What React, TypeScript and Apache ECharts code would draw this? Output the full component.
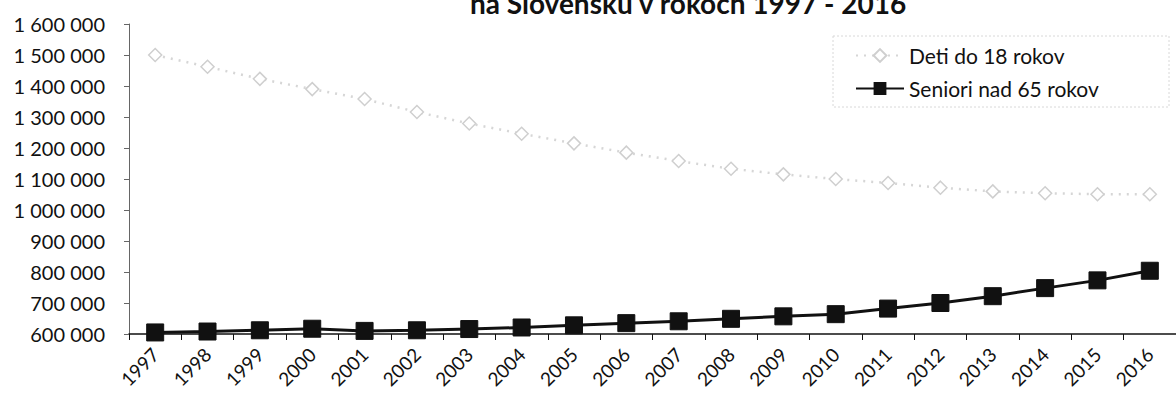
import React, { useEffect, useRef } from "react";
import * as echarts from "echarts";

const years = ["1997","1998","1999","2000","2001","2002","2003","2004","2005","2006","2007","2008","2009","2010","2011","2012","2013","2014","2015","2016"];
const deti = [1500000,1462000,1423000,1390000,1358000,1316000,1279000,1246000,1215000,1185000,1158000,1133000,1115000,1100000,1087000,1072000,1060000,1054000,1051000,1051000];
const seniori = [605000,608000,612000,617000,610000,612000,616000,621000,628000,635000,641000,649000,657000,664000,682000,700000,722000,748000,773000,804000];
const seriesNames = ["Deti do 18 rokov", "Seniori nad 65 rokov"];
const titleText = "na Slovensku v rokoch 1997 - 2016";

const FONT = "Lato, 'Noto Sans', sans-serif";

export default function App() {
  const ref = useRef<HTMLDivElement>(null);
  useEffect(() => {
    if (!ref.current) return;
    const chart = echarts.init(ref.current, null, { renderer: "svg" });
    chart.setOption({
      animation: false,
      backgroundColor: "#fff",
      textStyle: { fontFamily: FONT },
      grid: { left: 129, top: 24, bottom: 66, width: 1050 },
      graphic: [
        {
          type: "text",
          x: 470,
          y: 17,
          style: { text: titleText, font: `bold 28px ${FONT}`, fill: "#111", verticalAlign: "bottom" },
        },
        {
          type: "rect",
          shape: { x: 833, y: 36, width: 336, height: 71 },
          style: { fill: "none", stroke: "#d8d8d8", lineWidth: 1, lineDash: [2, 2] },
          z: 1,
        },
      ],
      legend: {
        orient: "vertical",
        left: 850,
        top: 40,
        itemWidth: 48,
        itemHeight: 16,
        itemGap: 12,
        data: seriesNames,
        textStyle: { fontSize: 21, color: "#111", fontFamily: FONT },
      },
      xAxis: {
        type: "category",
        data: years,
        boundaryGap: true,
        axisLine: { lineStyle: { color: "#111", width: 1.5 } },
        axisTick: { show: true, length: 6, lineStyle: { color: "#111" } },
        axisLabel: { rotate: 45, fontSize: 19, color: "#111", margin: 17, fontFamily: FONT },
      },
      yAxis: {
        type: "value",
        min: 600000,
        max: 1600000,
        interval: 100000,
        axisLine: { show: true, lineStyle: { color: "#666", width: 1 } },
        axisTick: { show: true, length: 5, lineStyle: { color: "#666" } },
        splitLine: { show: false },
        axisLabel: {
          fontSize: 20,
          color: "#111",
          margin: 24,
          fontFamily: FONT,
          formatter: (v: number) => String(v).replace(/\B(?=(\d{3})+(?!\d))/g, " "),
        },
      },
      series: [
        {
          name: seriesNames[0],
          type: "line",
          data: deti,
          symbol: "diamond",
          symbolSize: 13,
          itemStyle: { color: "#fff", borderColor: "#cfcfcf", borderWidth: 1.5 },
          lineStyle: { color: "#d6d6d6", width: 2.5, type: [2, 6] },
          z: 2,
        },
        {
          name: seriesNames[1],
          type: "line",
          data: seniori,
          symbol: "rect",
          symbolSize: 17,
          itemStyle: { color: "#111", borderColor: "#111", borderRadius: 2 },
          lineStyle: { color: "#111", width: 3 },
          z: 3,
        },
      ],
    });
    return () => chart.dispose();
  }, []);
  return <div ref={ref} style={{ position: "fixed", left: 0, top: 0, width: 1176, height: 400 }} />;
}
